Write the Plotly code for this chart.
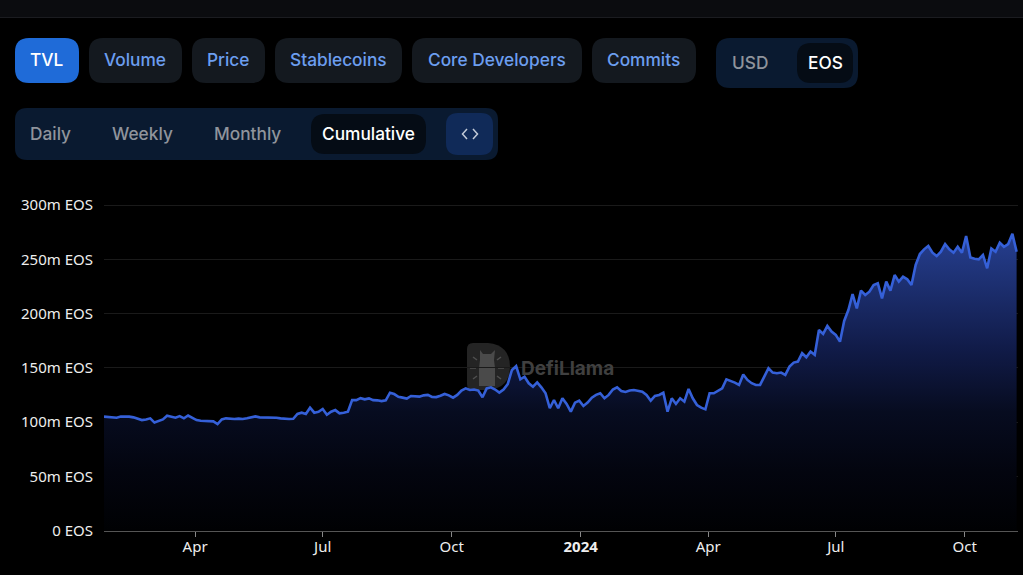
import pandas as pd
import plotly.graph_objects as go

W = 1023
H = 575

# TVL in millions of EOS, one reading every 3 days
tvl = [
    105, 104.6, 104.3, 104, 105, 105, 105, 104.3, 102.8, 101.8,
    102.4, 103.4, 99.5, 101, 102.4, 105.8, 105, 104, 105.5, 103.4,
    106, 104, 101.8, 101.2, 100.9, 100.9, 100.6, 98.1, 102.4, 103.4,
    102.8, 102.8, 103.1, 102.8, 103.4, 104.6, 105.2, 104.3, 104.3, 104.6,
    104, 104, 103.4, 102.8, 102.8, 103, 107.4, 108.6, 107.4, 113.2,
    108.6, 109.5, 112, 106.7, 109.5, 111, 108, 108.6, 109.5, 120.2,
    120.2, 122, 120.9, 121.8, 120.2, 120, 119.3, 120, 127, 125.8,
    123.3, 122.5, 121.6, 124, 123.7, 123.4, 124.6, 125, 123.1, 123,
    124.3, 125.9, 124.6, 122.5, 125, 129, 131, 129.5, 130, 129,
    122.8, 131, 132, 130, 127.1, 130, 135, 148, 151.5, 139.4,
    141.8, 135.7, 132.6, 136.6, 132, 126.5, 112.7, 120.3, 112.7, 121.9,
    116.7, 109.6, 117.9, 119.7, 114.8, 117.9, 122.5, 125, 126.5, 121.9,
    125, 130, 132, 128.6, 127.7, 129, 129.5, 128.6, 128, 125,
    119.7, 124, 125, 127, 109.6, 121.9, 116.7, 121.9, 118.8, 130.5,
    121.9, 115.7, 113.2, 111.7, 126.5, 126.5, 129, 131, 139.4, 138.1,
    136.3, 134.2, 143.8, 138.8, 135.8, 134.2, 134.2, 141.9, 149.6, 145.6,
    145, 145.6, 143.4, 151.1, 154.8, 155.7, 163.4, 159.7, 165, 161.9,
    184.9, 181.2, 188.6, 183.4, 180.3, 174.1, 193.2, 203.3, 218, 204.8,
    221.1, 217.1, 220.2, 226.3, 227.9, 214, 229.4, 221.1, 235.5, 229.4,
    234, 231.6, 226.3, 244.8, 254.9, 259.2, 262.3, 256.1, 253, 257,
    264.1, 259.2, 256.1, 261.6, 256.1, 271.5, 251.8, 250.6, 250, 254,
    241.7, 260, 257, 265.3, 261.6, 264.1, 273.5, 257,
]
dates = pd.date_range("2023-01-26", periods=len(tvl), freq="3D")

y_ticks = [0, 50, 100, 150, 200, 250, 300]
y_labels = ["0 EOS", "50m EOS", "100m EOS", "150m EOS", "200m EOS", "250m EOS", "300m EOS"]
x_ticks = ["2023-04-01", "2023-07-01", "2023-10-01", "2024-01-01", "2024-04-01", "2024-07-01", "2024-10-01"]
x_labels = ["Apr", "Jul", "Oct", "<b>2024</b>", "Apr", "Jul", "Oct"]

# label, left, right, fill, text colour
tabs = [
    ("TVL", 15, 79, "#1f6bd8", "#ffffff"),
    ("Volume", 89, 182, "#14191f", "#6c9eef"),
    ("Price", 192, 265, "#14191f", "#6c9eef"),
    ("Stablecoins", 275, 402, "#14191f", "#6c9eef"),
    ("Core Developers", 412, 582, "#14191f", "#6c9eef"),
    ("Commits", 592, 696, "#14191f", "#6c9eef"),
]
periods = [("Daily", 50, "#8f949c"), ("Weekly", 142, "#8f949c"), ("Monthly", 247, "#8f949c"), ("Cumulative", 368, "#ffffff")]


def px(x):
    return x / W


def py(y):
    return 1 - y / H


def rounded(x0, y0, x1, y1, r, fill):
    p = (
        f"M {px(x0 + r)} {py(y0)} L {px(x1 - r)} {py(y0)} Q {px(x1)} {py(y0)} {px(x1)} {py(y0 + r)} "
        f"L {px(x1)} {py(y1 - r)} Q {px(x1)} {py(y1)} {px(x1 - r)} {py(y1)} "
        f"L {px(x0 + r)} {py(y1)} Q {px(x0)} {py(y1)} {px(x0)} {py(y1 - r)} "
        f"L {px(x0)} {py(y0 + r)} Q {px(x0)} {py(y0)} {px(x0 + r)} {py(y0)} Z"
    )
    return dict(type="path", xref="paper", yref="paper", path=p, fillcolor=fill, line_width=0, layer="below")


def stroke(points, color, width=1.5):
    p = "M " + " L ".join(f"{px(x)} {py(y)}" for x, y in points)
    return dict(type="path", xref="paper", yref="paper", path=p, line=dict(color=color, width=width), layer="below")


def polygon(points, fill):
    p = "M " + " L ".join(f"{px(x)} {py(y)}" for x, y in points) + " Z"
    return dict(type="path", xref="paper", yref="paper", path=p, fillcolor=fill, line_width=0, layer="below")


def label(text, x, y, color, size=17.3, font="Inter", weight=500):
    return dict(
        text=text, x=px(x), y=py(y), xref="paper", yref="paper", showarrow=False,
        xanchor="center", yanchor="middle",
        font=dict(family=font, size=size, color=color, weight=weight),
    )


# D-shaped watermark badge, square on the left and round on the right
badge = (
    f"M {px(473)} {py(343)} L {px(488)} {py(343)} Q {px(510)} {py(345)} {px(510)} {py(367)} "
    f"Q {px(510)} {py(388)} {px(488)} {py(390)} L {px(473)} {py(390)} "
    f"Q {px(467)} {py(390)} {px(467)} {py(384)} L {px(467)} {py(349)} Q {px(467)} {py(343)} {px(473)} {py(343)} Z"
)
shapes = [
    dict(type="rect", xref="paper", yref="paper", x0=0, x1=1, y0=py(17), y1=1, fillcolor="#0b0c0f", line_width=0, layer="below"),
    dict(type="line", xref="paper", yref="paper", x0=0, x1=1, y0=py(17.5), y1=py(17.5), line=dict(color="#1b1c20", width=1), layer="below"),
    rounded(716, 38, 858, 88, 14, "#0a1a30"),
    rounded(797, 43, 853, 83, 14, "#050c15"),
    rounded(15, 108, 498, 160, 12, "#0a1a30"),
    rounded(311, 114, 426, 154, 14, "#050c15"),
    rounded(446, 113, 493, 155, 12, "#102a58"),
    stroke([(467, 129), (462.5, 134), (467, 139)], "#c3cbd8"),
    stroke([(473, 129), (477.5, 134), (473, 139)], "#c3cbd8"),
    dict(type="path", xref="paper", yref="paper", path=badge, fillcolor="#242424", line_width=0, layer="below"),
    polygon([(480, 350), (483, 354), (491, 354), (495, 350), (494, 360), (495, 368), (495, 386),
             (479, 386), (479, 368), (480, 360)], "#4a4a4a"),
    stroke([(473, 357), (477, 360)], "#4f4f4f"),
    stroke([(501, 357), (497, 360)], "#4f4f4f"),
    stroke([(470, 368), (476, 368)], "#4f4f4f"),
    stroke([(504, 368), (498, 368)], "#4f4f4f"),
    stroke([(473, 379), (477, 376)], "#4f4f4f"),
    stroke([(501, 379), (497, 376)], "#4f4f4f"),
]
annotations = [label("USD", 749.5, 62.5, "#8f949c"), label("EOS", 825.5, 62.5, "#ffffff")]
for name, left, right, fill, color in tabs:
    shapes.append(rounded(left, 38, right, 83, 14, fill))
    annotations.append(label(name, (left + right) / 2 - 0.5, 60, color))
for name, center, color in periods:
    annotations.append(label(name, center, 133.5, color))
annotations.append(label("DefiLlama", 567, 368.5, "#404040", size=19, weight=700))

fig = go.Figure(
    go.Scatter(
        x=dates,
        y=tvl,
        mode="lines",
        line=dict(color="#3560d8", width=2.6),
        fill="tozeroy",
        fillgradient=dict(
            type="vertical",
            colorscale=[[0, "#000103"], [0.2, "#03050f"], [0.4, "#070c20"], [0.6, "#101a46"], [1, "#263f90"]],
        ),
        hoverinfo="skip",
    )
)
fig.update_layout(
    width=W,
    height=H,
    margin=dict(l=0, r=0, t=0, b=0, autoexpand=False),
    paper_bgcolor="#000000",
    plot_bgcolor="#000000",
    showlegend=False,
    shapes=shapes,
    annotations=annotations,
    xaxis=dict(
        domain=[px(104), px(1018)],
        range=["2023-01-26", "2024-11-08"],
        tickvals=x_ticks,
        ticktext=x_labels,
        tickangle=0,
        showgrid=False,
        zeroline=False,
        showline=True,
        linecolor="#555555",
        ticks="outside",
        ticklen=5,
        tickcolor="#888888",
        ticklabelstandoff=-3,
        tickfont=dict(family="Noto Sans", size=15, color="#eeeeee"),
    ),
    yaxis=dict(
        domain=[py(530.5), py(204)],
        range=[0, 301],
        tickvals=y_ticks,
        ticktext=y_labels,
        showgrid=True,
        gridcolor="#1a1a1a",
        zeroline=False,
        ticks="outside",
        ticklen=7,
        tickcolor="rgba(0,0,0,0)",
        tickfont=dict(family="Noto Sans", size=15, color="#eeeeee"),
    ),
)
fig.write_html(
    "out.html",
    config={"displayModeBar": False},
    post_script="document.body.style.margin='0';document.body.style.background='#000'",
)
